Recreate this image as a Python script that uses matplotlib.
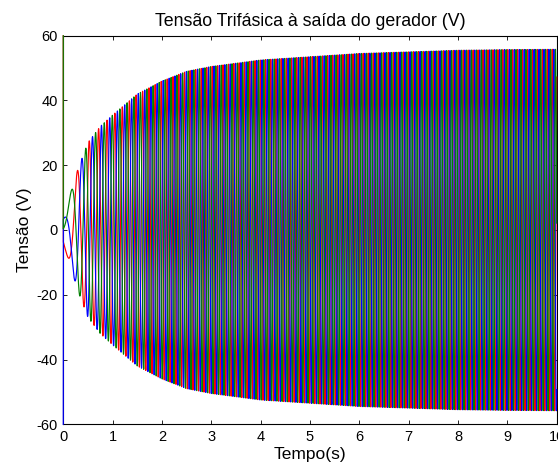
import numpy as np
import matplotlib
matplotlib.use("Agg")
import matplotlib.pyplot as plt

plt.rcParams['font.family'] = ['Liberation Sans', 'DejaVu Sans']
plt.rcParams['axes.unicode_minus'] = False

# Envelope of the generator voltage (peak value, V) during start-up
env_time = [0.0, 0.1, 0.2, 0.3, 0.5, 0.75, 1.0, 1.5, 2.0, 2.5, 3.0, 4.0, 5.0, 6.0, 7.0, 8.0, 9.0, 10.0]
env_peak = [4.0, 9.0, 14.0, 19.0, 27.0, 32.0, 35.5, 42.0, 46.0, 49.0, 50.5, 52.5, 53.5, 54.5, 55.0, 55.5, 55.7, 55.8]
final_freq_hz = 10.0          # electrical frequency at rated speed
phase_shift_deg = [0, -120, 120]
phase_colors = ['#ff0000', '#0000ff', '#008000']
spike_values = [60, -60, 60]   # switching transient at t = 0

x_ticks = [0, 1, 2, 3, 4, 5, 6, 7, 8, 9, 10]
y_ticks = [-60, -40, -20, 0, 20, 40, 60]

t = np.linspace(0.0, 10.0, 20001)
amp = np.interp(t, env_time, env_peak)
# frequency follows rotor speed, which also sets the EMF amplitude
freq = final_freq_hz * amp / env_peak[-1]
theta = 2 * np.pi * np.concatenate([[0.0], np.cumsum((freq[1:] + freq[:-1]) / 2 * np.diff(t))]) - 2.0

fig = plt.figure(figsize=(5.58, 4.68), dpi=100)
ax = fig.add_axes([0.1134, 0.0934, 0.8843, 0.8303])

for shift, color, spike in zip(phase_shift_deg, phase_colors, spike_values):
    v = amp * np.sin(theta + np.deg2rad(shift))
    tt = np.concatenate([[0.0], t])
    vv = np.concatenate([[spike], v])
    ax.plot(tt, vv, color=color, lw=0.85, zorder=3, clip_on=False)

ax.set_xlim(0, 10)
ax.set_ylim(-60, 60)
ax.set_xticks(x_ticks)
ax.set_yticks(y_ticks)
ax.tick_params(direction='in', length=3, width=0.6, top=True, right=True,
               labelsize=10.5, pad=4)
for s in ax.spines.values():
    s.set_linewidth(0.8)

ax.set_title('Tensão Trifásica à saída do gerador (V)', fontsize=12.8, pad=7)
ax.set_xlabel('Tempo(s)', fontsize=12.5, labelpad=2)
ax.set_ylabel('Tensão (V)', fontsize=12.5, labelpad=3)

fig.savefig('out.png', dpi=100)
